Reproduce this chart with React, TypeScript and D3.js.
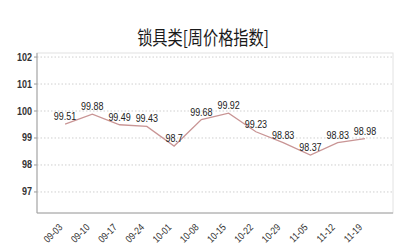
import React from "react";
import * as d3 from "d3";

const title = "锁具类[周价格指数]";
const dates = ["09-03", "09-10", "09-17", "09-24", "10-01", "10-08", "10-15", "10-22", "10-29", "11-05", "11-12", "11-19"];
const values = [99.51, 99.88, 99.49, 99.43, 98.7, 99.68, 99.92, 99.23, 98.83, 98.37, 98.83, 98.98];
const yTicks = [97, 98, 99, 100, 101, 102];

const W = 400, H = 250;
const left = 37, right = 393, top = 53, bottom = 213;
const font = "'Liberation Sans', Arial, sans-serif";

export default function App() {
  const x = d3.scalePoint<string>().domain(dates).range([left, right]).padding(1.03);
  const y = d3.scaleLinear().domain([96.22, 102.15]).range([bottom, top]);
  const line = d3.line<number>().x((_, i) => x(dates[i])!).y(d => y(d));
  return (
    <svg width={W} height={H} style={{ position: "absolute", left: 0, top: 0, background: "#fff" }}>
      <text transform={`translate(203,45) scale(0.8,1)`} textAnchor="middle" fontSize={19} fill="#1a1a1a" fontFamily="'Noto Sans CJK SC', sans-serif">{title}</text>
      <rect x={left} y={top} width={right - left} height={bottom - top} fill="none" stroke="#e2e2e2" />
      {yTicks.map(t => (
        <g key={t}>
          <line x1={left} x2={right} y1={y(t)} y2={y(t)} stroke="#cfcfcf" strokeDasharray="1.5,2" />
          <line x1={left - 3} x2={left} y1={y(t)} y2={y(t)} stroke="#999" />
          <text transform={`translate(${left - 5},${y(t) + 3.5}) scale(0.9,1)`} textAnchor="end" fontSize={10} fontWeight="bold" fill="#333" fontFamily={font}>{t}</text>
        </g>
      ))}
      <line x1={left} x2={left} y1={top} y2={bottom} stroke="#a0a0a0" />
      <line x1={left} x2={right} y1={bottom} y2={bottom} stroke="#a0a0a0" />
      <path d={line(values) || ""} fill="none" stroke="#c99595" strokeWidth={1.3} />
      {values.map((v, i) => (
        <text key={i} transform={`translate(${x(dates[i])!},${y(v) - 4}) scale(0.78,1)`} textAnchor="middle" fontSize={11.5} fill="#222" fontFamily={font}>{String(v)}</text>
      ))}
      {dates.map(d => (
        <text key={d} transform={`translate(${x(d)! - 2},${bottom + 15}) rotate(-45) scale(0.85,1)`} textAnchor="end" fontSize={10} fill="#333" fontFamily={font}>{d}</text>
      ))}
    </svg>
  );
}
